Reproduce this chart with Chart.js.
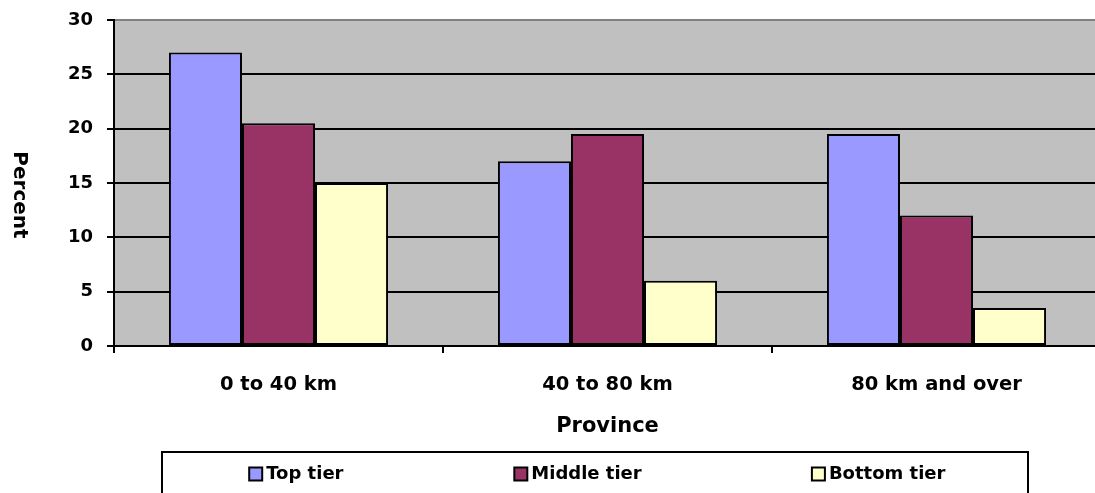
<!DOCTYPE html>
<html>
<head>
<meta charset="utf-8">
<script src="https://cdn.jsdelivr.net/npm/chart.js@4/dist/chart.umd.min.js"></script>
<style>
    html, body { margin: 0; padding: 0; background: #fff; overflow: hidden; }
    canvas { position: absolute; left: 0; top: 0; }
</style>
</head>
<body>
<canvas id="chart" width="1102" height="493"></canvas>
<script>
const categories = ['0 to 40 km', '40 to 80 km', '80 km and over'];
const seriesNames = ['Top tier', 'Middle tier', 'Bottom tier'];
const topTier = [27, 17, 19.5];
const middleTier = [20.5, 19.5, 12];
const bottomTier = [15, 6, 3.5];
const yMin = 0;
const yMax = 30;
const yStep = 5;
const xTitle = 'Province';
const yTitle = 'Percent';

const FONT = '"DejaVu Sans", sans-serif';
const colors = ['#9999FF', '#993366', '#FFFFCC'];

// grey plot background, drawn under the grid
const plotBackground = {
    id: 'plotBackground',
    beforeDraw(chart) {
        const {ctx, chartArea: a} = chart;
        ctx.save();
        ctx.fillStyle = '#C0C0C0';
        ctx.fillRect(a.left, a.top, a.right - a.left, a.bottom - a.top);
        ctx.restore();
    }
};

// axis titles and the boxed legend under the chart
const extras = {
    id: 'extras',
    afterDraw(chart) {
        const {ctx, chartArea: a} = chart;
        ctx.save();
        ctx.fillStyle = '#000';
        ctx.textBaseline = 'middle';

        ctx.font = 'bold 21px ' + FONT;
        ctx.textAlign = 'center';
        ctx.fillText(xTitle, (a.left + a.right) / 2, 427);

        ctx.translate(19, 195);
        ctx.rotate(Math.PI / 2);
        ctx.font = 'bold 20px ' + FONT;
        ctx.fillText(yTitle, 0, 0);
        ctx.restore();

        // legend box
        const box = {left: 162, right: 1028, top: 452, bottom: 500};
        ctx.save();
        ctx.lineWidth = 2;
        ctx.strokeStyle = '#000';
        ctx.strokeRect(box.left, box.top, box.right - box.left, box.bottom - box.top);
        ctx.font = 'bold 18px ' + FONT;
        ctx.textBaseline = 'middle';
        ctx.textAlign = 'left';
        const colW = (box.right - box.left) / chart.data.datasets.length;
        const shift = [-10, -17, -5];
        chart.data.datasets.forEach((ds, i) => {
            const textW = ctx.measureText(ds.label).width;
            const itemW = 14 + 3 + textW;
            const x0 = box.left + colW * i + (colW - itemW) / 2 + shift[i];
            const yc = 474;
            ctx.fillStyle = ds.backgroundColor;
            ctx.fillRect(x0, yc - 6.5, 13, 13);
            ctx.strokeRect(x0, yc - 6.5, 13, 13);
            ctx.fillStyle = '#000';
            ctx.fillText(ds.label, x0 + 17, yc);
        });
        ctx.restore();
    }
};

const series = [topTier, middleTier, bottomTier];

new Chart(document.getElementById('chart'), {
    type: 'bar',
    data: {
        labels: categories,
        datasets: series.map((values, i) => ({
            label: seriesNames[i],
            data: values,
            backgroundColor: colors[i],
            borderColor: '#000',
            borderWidth: 2,
            borderSkipped: false,
            categoryPercentage: 0.666,
            barPercentage: 1
        }))
    },
    options: {
        responsive: false,
        animation: false,
        devicePixelRatio: 1,
        layout: {
            padding: {top: 20, right: 1, left: 0, bottom: 0}
        },
        plugins: {
            legend: {display: false},
            tooltip: {enabled: false}
        },
        scales: {
            x: {
                afterFit: (scale) => {
                    scale.height = 147;
                    scale.paddingLeft = 0;
                    scale.paddingRight = 0;
                },
                grid: {
                    offset: true,
                    drawOnChartArea: false,
                    drawTicks: true,
                    tickLength: 7,
                    color: '#000',
                    lineWidth: 2
                },
                border: {color: '#000', width: 2},
                ticks: {
                    color: '#000',
                    padding: 20,
                    maxRotation: 0,
                    font: {family: FONT, size: 19.5, weight: 'bold'}
                }
            },
            y: {
                min: yMin,
                max: yMax,
                afterFit: (scale) => {
                    scale.width = 114;
                    scale.paddingTop = 0;
                    scale.paddingBottom = 0;
                },
                grid: {
                    color: (c) => c.tick && c.tick.value === yMax ? '#808080' : '#000',
                    tickColor: '#000',
                    lineWidth: 2,
                    tickLength: 7
                },
                border: {color: '#000', width: 2},
                ticks: {
                    stepSize: yStep,
                    color: '#000',
                    padding: 14,
                    font: {family: FONT, size: 18, weight: 'bold'}
                }
            }
        }
    },
    plugins: [plotBackground, extras]
});
</script>
</body>
</html>
